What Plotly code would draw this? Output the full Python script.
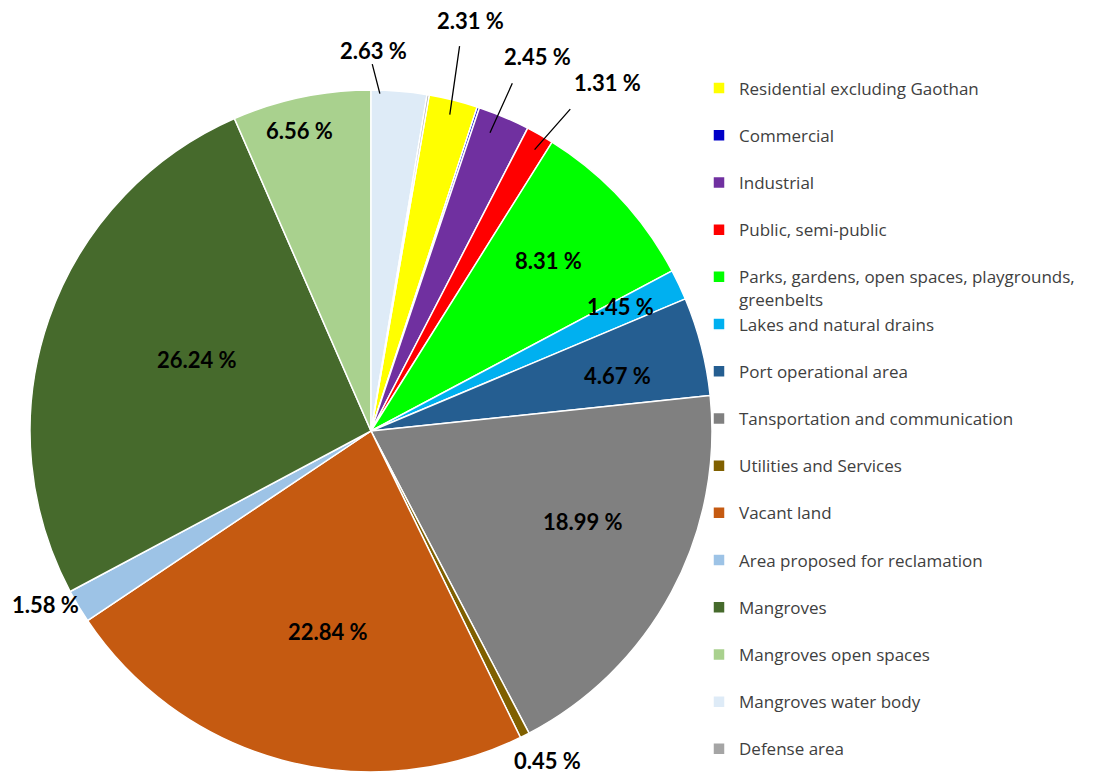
import math
import plotly.graph_objects as go

# ---------------- data ----------------
categories = [
    "Residential excluding Gaothan",
    "Commercial",
    "Industrial",
    "Public, semi-public",
    "Parks, gardens, open spaces, playgrounds,<br>greenbelts",
    "Lakes and natural drains",
    "Port operational area",
    "Tansportation and communication",
    "Utilities and Services",
    "Vacant land",
    "Area proposed for reclamation",
    "Mangroves",
    "Mangroves open spaces",
    "Mangroves water body",
    "Defense area",
]
shares = [2.31, 0.11, 2.45, 1.31, 8.31, 1.45, 4.67, 18.99, 0.45, 22.84, 1.58, 26.24, 6.56, 2.63, 0.10]
show_label = [True, False, True, True, True, True, True, True, True, True, True, True, True, True, False]

colors = [
    "#FFFF00", "#0000C8", "#7030A0", "#FF0000", "#00FF00", "#00B0F0", "#255E91",
    "#808080", "#806000", "#C55A11", "#9DC3E6", "#466A2C", "#A9D18E", "#DEEBF7", "#A5A5A5",
]

# ---------------- layout geometry (pixels, figure coordinates) ----------------
W, H = 1097, 768          # page body has an 8 px margin
CX, CY, R = 363, 423, 341

total = sum(shares)
# the "Mangroves water body" slice starts at 12 o'clock -> rotate by the trailing slices
rotation = 360.0 * (shares[-1] + shares[-2]) / total

legend_labels = [c if ("<br>" in c or i == len(categories) - 1) else c + "<br> "
                 for i, c in enumerate(categories)]

fig = go.Figure()
fig.add_trace(go.Pie(
    labels=legend_labels,
    values=shares,
    sort=False,
    direction="clockwise",
    rotation=rotation,
    marker=dict(colors=colors, line=dict(color="white", width=1.5)),
    textinfo="none",
    hoverinfo="label+percent",
    domain=dict(x=[(CX - R) / W, (CX + R) / W], y=[(H - CY - R) / H, (H - CY + R) / H]),
))

# mid angle of every slice (degrees clockwise from 12 o'clock)
mids = []
acc = 0.0
for v in shares:
    mids.append(rotation + 360.0 * (acc + v / 2) / total)
    acc += v


def polar(i, k):
    a = math.radians(mids[i])
    return CX + k * R * math.sin(a), CY - k * R * math.cos(a)


def px2paper(x, y):
    return x / W, 1 - y / H


# label placement: index -> (radius factor, text dx, dy, leader line (end dx,dy, start dx,dy) or None)
placement = {
    11: (0.55, 3, -10, None),
    12: (0.90, -9, 0, None),
    9: (0.61, 11, 0, None),
    7: (0.705, 0, -23, None),
    6: (0.745, 0, 8, None),
    5: (0.81, 0, -6, None),
    4: (0.713, 0, -5, None),
    10: (1.08, -10, -16, None),
    8: (1.105, 7, -7, None),
    0: (0.956, 21, -94, (0, 0, 10, -70)),
    2: (0.94, 42, -79, (-6, -3, 17, -54)),
    3: (0.95, 76, -67, (3, 0, 40, -42)),
    13: (0.99, -25, -44, (-19, -1, -27, -32)),
}

label_font = dict(family="Lato", size=22, color="black", weight="bold")
annotations = []
for i, v in enumerate(shares):
    if not show_label[i]:
        continue
    k, tdx, tdy, line = placement[i]
    ax0, ay0 = polar(i, k)
    tx, ty = px2paper(ax0 + tdx, ay0 + tdy)
    annotations.append(dict(
        x=tx, y=ty, xref="paper", yref="paper", text=f"{v:.2f} %",
        showarrow=False, xanchor="center", yanchor="middle", font=label_font,
    ))
    if line:
        ex, ey, sx, sy = line
        px, py = px2paper(ax0 + ex, ay0 + ey)
        annotations.append(dict(
            x=px, y=py, xref="paper", yref="paper", text="",
            showarrow=True, arrowhead=0, arrowwidth=1.3, arrowcolor="black",
            ax=sx - ex, ay=sy - ey,
        ))

fig.update_layout(
    width=W, height=H,
    margin=dict(l=0, r=0, t=0, b=0),
    paper_bgcolor="white",
    plot_bgcolor="white",
    showlegend=True,
    legend=dict(
        x=691 / W, y=1 - 62.5 / H, xanchor="left", yanchor="top",
        font=dict(family="Open Sans", size=17, color="#404040"),
        valign="top",
        bgcolor="rgba(0,0,0,0)",
        tracegroupgap=0,
    ),
    annotations=annotations,
)

fig.write_html("out.html")
